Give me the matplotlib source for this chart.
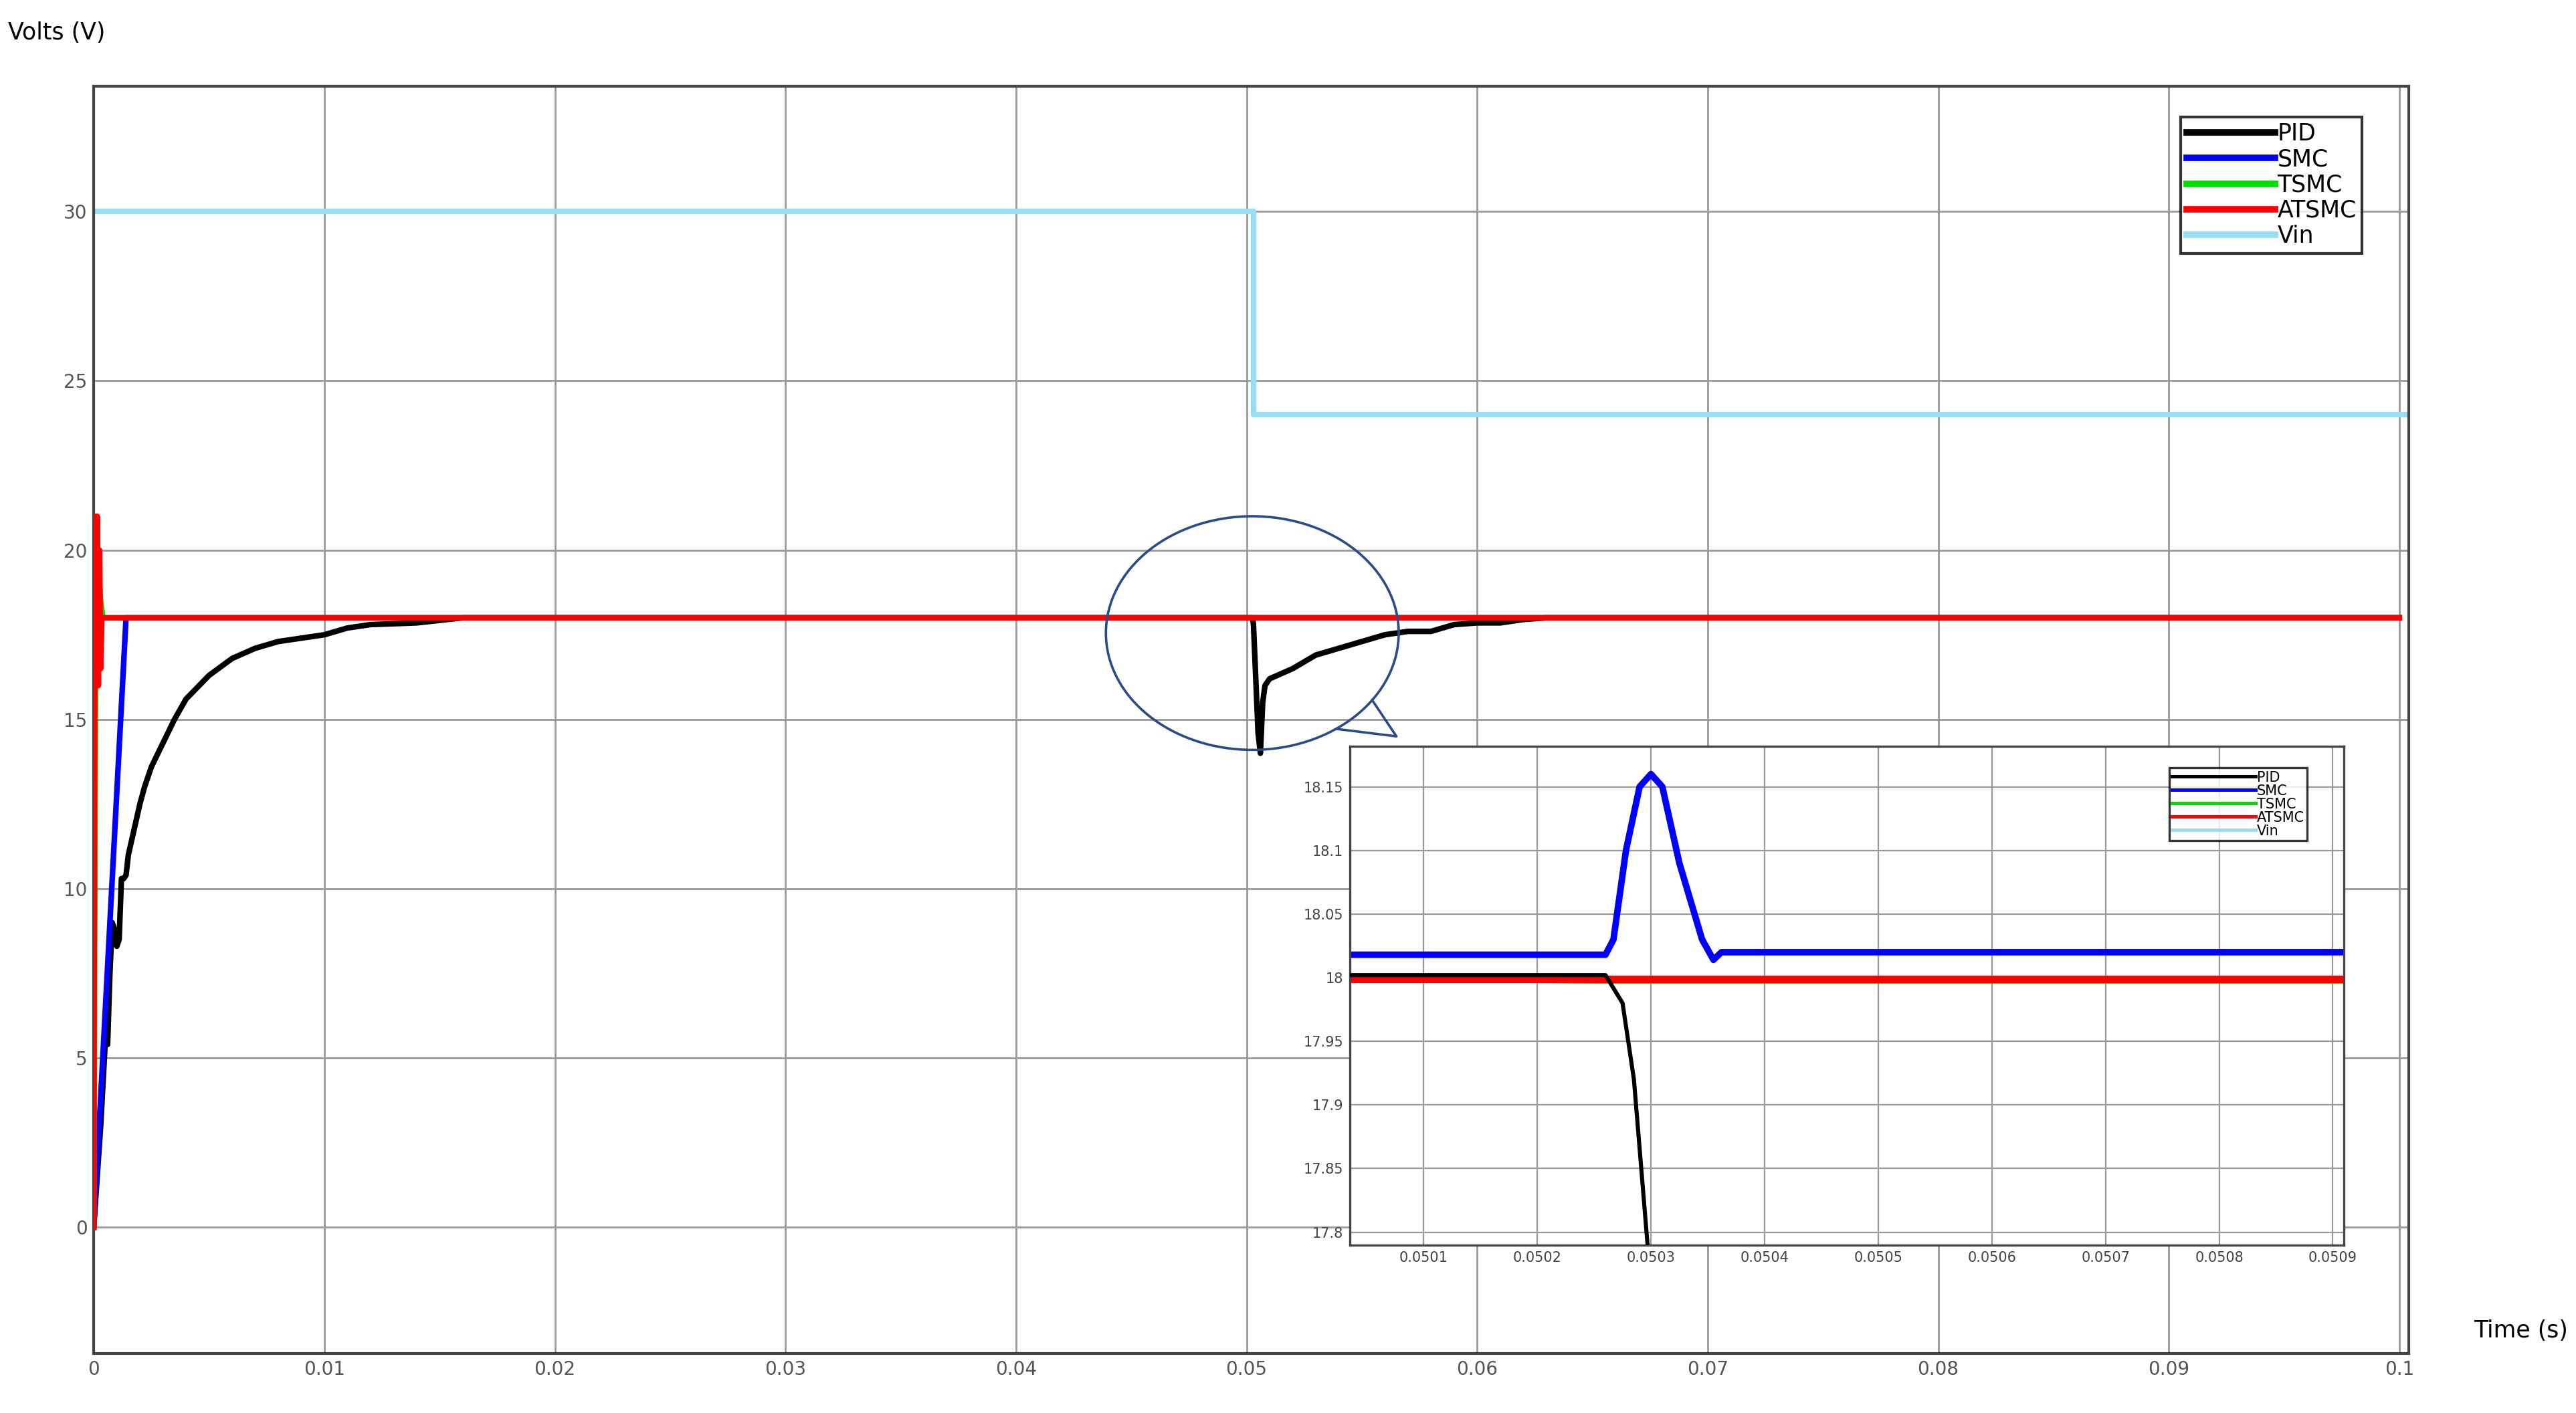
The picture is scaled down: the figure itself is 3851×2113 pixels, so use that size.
import matplotlib
matplotlib.use("Agg")
import matplotlib.pyplot as plt
from matplotlib.patches import Ellipse
import numpy as np

# main data
pid_t = [0, 0.0003, 0.0005, 0.0006, 0.0007, 0.0008, 0.0009, 0.001, 0.0011, 0.0012, 0.0013, 0.0014, 0.0015, 0.0017, 0.002, 0.0022,
         0.0025, 0.003, 0.0035, 0.004, 0.005, 0.006, 0.007, 0.008, 0.009, 0.01, 0.011, 0.012, 0.014, 0.016, 0.05026,
         0.0503, 0.0505, 0.0506, 0.0507, 0.0508, 0.051, 0.052, 0.053, 0.054, 0.055, 0.056, 0.057, 0.058, 0.059, 0.06, 0.061, 0.062, 0.063, 0.1]
pid_v = [0, 3, 5.5, 5.4, 7.5, 9.0, 8.8, 8.3, 8.5, 10.3, 10.3, 10.4, 11.0, 11.6, 12.5, 13.0,
         13.6, 14.3, 15.0, 15.6, 16.3, 16.8, 17.1, 17.3, 17.4, 17.5, 17.7, 17.8, 17.85, 18.0, 18.0,
         17.8, 14.6, 14.0, 15.5, 16.0, 16.2, 16.5, 16.9, 17.1, 17.3, 17.5, 17.6, 17.6, 17.8, 17.85, 17.85, 17.95, 18.0, 18.0]
smc_t = [0, 0.0014, 0.1]
smc_v = [0, 18.0, 18.0]
tsmc_t = [0, 0.0001, 0.0003, 0.0004, 0.1]
tsmc_v = [0, 20.5, 18.5, 18.0, 18.0]
atsmc_t = [0, 0.00005, 0.0001, 0.00015, 0.0002, 0.00025, 0.0003, 0.00035, 0.0004, 0.1]
atsmc_v = [0, 21.0, 16.0, 21.0, 16.0, 20.0, 16.5, 18.0, 18.0, 18.0]
vin_t = [0, 0.0503, 0.0503, 0.1004]
vin_v = [30, 30, 24, 24]

# inset data
in_pid_t = [0.05003, 0.05026, 0.050275, 0.050285, 0.050297]
in_pid_v = [18.002, 18.002, 17.98, 17.92, 17.79]
in_smc_t = [0.05003, 0.050260, 0.050267, 0.050278, 0.050290, 0.050300, 0.050310, 0.050325, 0.050345, 0.050355, 0.050362, 0.05091]
in_smc_v = [18.018, 18.018, 18.03, 18.10, 18.15, 18.16, 18.15, 18.09, 18.03, 18.014, 18.02, 18.02]
in_tsmc_t = [0.05003, 0.05026, 0.05091]
in_tsmc_v = [17.999, 17.997, 17.997]
in_atsmc_t = [0.05003, 0.05091]
in_atsmc_v = [17.999, 17.999]

W, H = 3851, 2113
fig = plt.figure(figsize=(W/200, H/200), dpi=200)
ax = fig.add_axes([0.0364, 0.042, 0.8986, 0.897])
lw = 3.0
ax.plot(vin_t, vin_v, color="#99ddf5", lw=lw, label="Vin", zorder=2)
ax.plot(pid_t, pid_v, color="black", lw=lw, label="PID", zorder=3)
ax.plot(smc_t, smc_v, color="blue", lw=lw, label="SMC", zorder=3)
ax.plot(tsmc_t, tsmc_v, color="#00dd00", lw=lw, label="TSMC", zorder=4)
ax.plot(atsmc_t, atsmc_v, color="red", lw=lw, label="ATSMC", zorder=5)
ax.set_xlim(0, 0.1004)
ax.set_ylim(-3.73, 33.7)
ax.set_xticks(np.arange(0, 0.1001, 0.01))
ax.set_xticklabels(["0"] + ["%g" % v for v in np.arange(0.01, 0.1001, 0.01)])
ax.set_yticks([0, 5, 10, 15, 20, 25, 30])
ax.grid(True, color="#999999", lw=1.0)
ax.tick_params(colors="#555555", labelsize=10, length=0)
for s in ax.spines.values():
    s.set_color("#444444"); s.set_linewidth(1.5)
h, l = ax.get_legend_handles_labels()
order = [l.index(n) for n in ["PID", "SMC", "TSMC", "ATSMC", "Vin"]]
leg = ax.legend([h[i] for i in order], [l[i] for i in order], loc="upper right", bbox_to_anchor=(0.985, 0.985),
                fancybox=False, edgecolor="black", fontsize=12.5, handlelength=3.8, handletextpad=0.1,
                borderpad=0.25, labelspacing=0.12)
leg.get_frame().set_linewidth(1.5)
for line in leg.get_lines():
    line.set_linewidth(3.5)

ax.add_patch(Ellipse((0.05025, 17.55), 0.0127, 6.9, fill=False, edgecolor="#2a4a8a", lw=1.3, zorder=6))
ax.plot([0.05545, 0.0565, 0.05389], [15.57, 14.5, 14.72], color="#2a4a8a", lw=1.3, zorder=6)

fig.text(0.003, 0.985, "Volts (V)", fontsize=12.5, va="top", ha="left")
fig.text(0.997, 0.058, "Time (s)", fontsize=12.5, va="center", ha="right")

# inset
ia = fig.add_axes([0.524, 0.119, 0.386, 0.353])
ia.plot(in_pid_t, in_pid_v, color="black", lw=2.2, label="PID", zorder=5)
ia.plot(in_smc_t, in_smc_v, color="blue", lw=3.5, label="SMC")
ia.plot(in_tsmc_t, in_tsmc_v, color="#00dd00", lw=2.5, label="TSMC")
ia.plot(in_atsmc_t, in_atsmc_v, color="red", lw=4, label="ATSMC")
ia.plot([], [], color="#99ddf5", lw=2, label="Vin")
ia.set_xlim(0.050035, 0.05091)
ia.set_ylim(17.79, 18.182)
ia.set_xticks([0.0501 + 0.0001*i for i in range(9)])
ia.set_xticklabels(["%.4f" % (0.0501 + 0.0001*i) for i in range(9)])
ia.set_yticks([17.8, 17.85, 17.9, 17.95, 18.0, 18.05, 18.1, 18.15])
ia.set_yticklabels(["17.8", "17.85", "17.9", "17.95", "18", "18.05", "18.1", "18.15"])
ia.grid(True, color="#999999", lw=0.8)
ia.tick_params(colors="#444444", labelsize=7.5, length=0)
for s in ia.spines.values():
    s.set_color("#444444"); s.set_linewidth(1.2)
lg2 = ia.legend(loc="upper right", bbox_to_anchor=(0.97, 0.97), fancybox=False, edgecolor="black", fontsize=7.5,
                handlelength=6, handletextpad=0.1, borderpad=0.2, labelspacing=0.0)
lg2.get_frame().set_linewidth(1.2)
for line in lg2.get_lines():
    line.set_linewidth(1.8)

fig.savefig("out.png", dpi=200)
